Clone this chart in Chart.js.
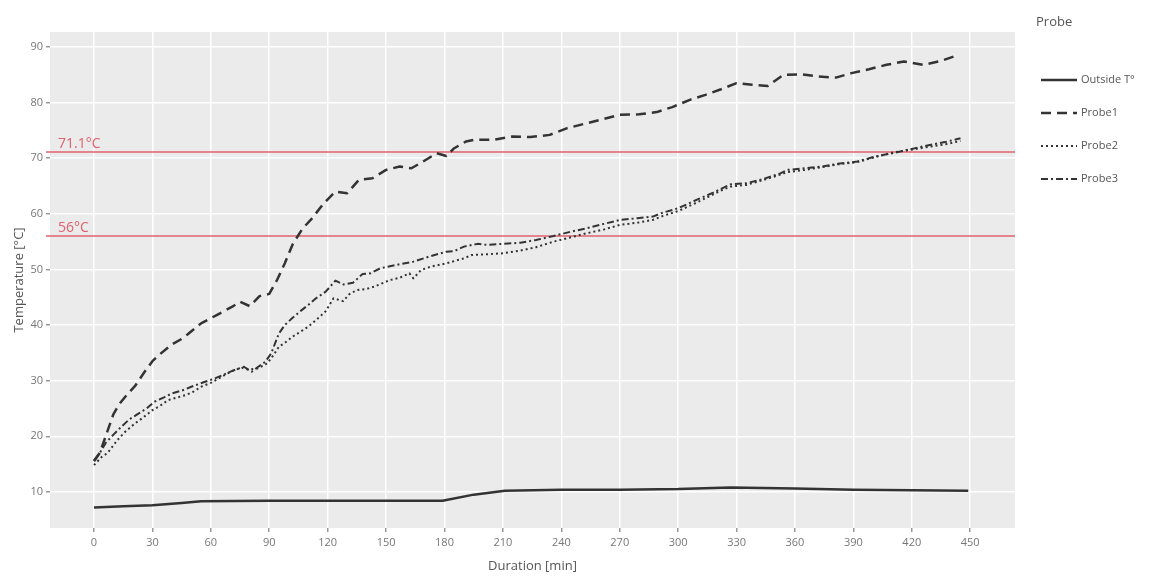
<!DOCTYPE html>
<html>
<head>
<meta charset="utf-8">
<title>Probe temperatures</title>
<script src="https://cdn.jsdelivr.net/npm/chart.js@4.4.1/dist/chart.umd.min.js"></script>
<style>
  html, body { margin: 0; padding: 0; background: #fff; }
  #wrap { width: 1157px; height: 576px; position: relative; }
</style>
</head>
<body>
<div id="wrap"><canvas id="tempChart"></canvas></div>
<script>
// ticks
const xTicks = [0, 30, 60, 90, 120, 150, 180, 210, 240, 270, 300, 330, 360, 390, 420, 450];
const yTicks = [10, 20, 30, 40, 50, 60, 70, 80, 90];

// reference temperatures
const thresholds = [71.1, 56];
const thresholdLabels = ['71.1°C', '56°C'];

const seriesNames = ['Outside T°', 'Probe1', 'Probe2', 'Probe3'];

// Outside T°
const outsideTime = [0, 15, 30, 45, 55, 90, 120, 150, 179, 195, 211, 240, 270, 300, 327, 360, 390, 420, 449];
const outsideTemp = [7.2, 7.4, 7.6, 8.0, 8.3, 8.4, 8.4, 8.4, 8.4, 9.5, 10.2, 10.4, 10.4, 10.5, 10.8, 10.6, 10.4, 10.3, 10.2];

// Probe1
const probe1Time = [0, 3, 7, 10, 13, 17, 21, 26, 30, 34, 40, 45, 48, 55, 63, 71, 75, 80, 85, 90,
  94, 98, 102, 107, 112, 118, 124, 130, 136, 143, 150, 157, 163, 169, 176, 181, 185, 191, 195, 205,
  215, 224, 234, 243, 252, 261, 270, 280, 289, 297, 306, 314, 322, 330, 338, 346, 354, 363, 372, 381,
  389, 398, 407, 416, 426, 435, 444];
const probe1Temp = [15.5, 17.0, 21.0, 24.0, 25.8, 27.5, 29.0, 31.6, 33.5, 34.8, 36.5, 37.5, 38.3, 40.3, 41.8, 43.3, 44.2, 43.4, 45.2, 45.6,
  48.1, 51.1, 54.5, 57.3, 59.2, 61.9, 64.0, 63.7, 66.1, 66.4, 67.9, 68.5, 68.2, 69.4, 70.9, 70.4, 71.8, 73.0, 73.3, 73.3,
  73.9, 73.8, 74.2, 75.4, 76.2, 77.0, 77.8, 77.9, 78.3, 79.2, 80.5, 81.4, 82.4, 83.5, 83.2, 83.0, 85.0, 85.1, 84.7, 84.5,
  85.3, 86.0, 86.8, 87.4, 86.8, 87.5, 88.6];

// Probe2
const probe2Time = [0, 4, 7, 12, 16, 21, 25, 30, 34, 38, 43, 47, 51, 55, 60, 64, 68, 72, 76, 79,
  84, 89, 92, 95, 98, 102, 106, 110, 115, 119, 123, 128, 131, 135, 140, 144, 148, 152, 157, 162,
  164, 168, 173, 181, 190, 194, 200, 210, 219, 227, 236, 245, 253, 262, 270, 279, 287, 292, 300, 305,
  310, 318, 322, 327, 335, 343, 352, 356, 365, 374, 382, 392, 401, 410, 419, 428, 437, 445];
const probe2Temp = [14.8, 16.3, 17.0, 19.3, 20.8, 22.3, 23.3, 24.7, 25.5, 26.5, 27.0, 27.4, 28.0, 28.9, 29.6, 30.4, 31.2, 31.9, 32.3, 32.0,
  32.2, 33.1, 34.5, 36.1, 36.8, 37.9, 38.8, 39.7, 41.2, 42.5, 44.8, 44.3, 45.5, 46.3, 46.5, 46.9, 47.5, 48.1, 48.5, 49.3,
  48.4, 49.9, 50.5, 51.1, 52.0, 52.6, 52.7, 52.9, 53.4, 54.0, 55.0, 55.8, 56.5, 57.2, 58.0, 58.4, 58.9, 59.6, 60.5, 61.3,
  62.1, 63.5, 64.2, 64.9, 65.2, 66.0, 67.0, 67.5, 67.9, 68.4, 68.9, 69.3, 70.2, 71.0, 71.5, 72.0, 72.5, 73.1];

// Probe3
const probe3Time = [0, 3, 6, 10, 14, 18, 23, 27, 31, 36, 40, 45, 50, 57, 62, 66, 72, 77, 81, 84,
  88, 91, 95, 98, 102, 106, 110, 114, 119, 124, 128, 133, 138, 142, 147, 155, 164, 172, 181, 185,
  190, 197, 202, 210, 219, 227, 236, 245, 253, 262, 270, 279, 287, 292, 300, 305, 310, 318, 322, 327,
  335, 343, 352, 356, 365, 374, 382, 392, 401, 410, 419, 428, 437, 445];
const probe3Temp = [15.7, 17.0, 18.8, 20.3, 21.7, 23.0, 24.1, 25.0, 26.2, 27.0, 27.7, 28.2, 28.9, 29.8, 30.4, 31.0, 31.9, 32.5, 31.6, 32.4,
  33.4, 34.9, 38.5, 40.0, 41.3, 42.5, 43.6, 44.8, 46.0, 48.0, 47.3, 47.6, 49.2, 49.3, 50.2, 50.8, 51.4, 52.3, 53.2, 53.3,
  54.1, 54.6, 54.4, 54.6, 54.8, 55.3, 56.0, 56.8, 57.4, 58.2, 58.9, 59.2, 59.5, 60.2, 61.0, 61.8, 62.6, 63.8, 64.5, 65.3,
  65.5, 66.2, 67.2, 67.9, 68.2, 68.5, 69.0, 69.4, 70.3, 70.9, 71.6, 72.3, 72.9, 73.6];

const toPoints = (xs, ys) => xs.map((x, i) => ({ x: x, y: ys[i] }));

const lineColor = '#333333';
const redColor = '#e0606c';
const fontFamily = '"Open Sans", "DejaVu Sans", sans-serif';

// grey panel behind the plot
const panelBackground = {
  id: 'panelBackground',
  beforeDraw(chart) {
    const { ctx, chartArea } = chart;
    ctx.save();
    ctx.fillStyle = '#ebebeb';
    ctx.fillRect(chartArea.left, chartArea.top, chartArea.right - chartArea.left, chartArea.bottom - chartArea.top);
    ctx.restore();
  }
};

// horizontal reference lines with their labels
const thresholdLines = {
  id: 'thresholdLines',
  beforeDatasetsDraw(chart) {
    const { ctx, chartArea } = chart;
    const yScale = chart.scales.y;
    ctx.save();
    thresholds.forEach((v, i) => {
      const y = yScale.getPixelForValue(v);
      ctx.strokeStyle = redColor;
      ctx.lineWidth = 1.5;
      ctx.beginPath();
      ctx.moveTo(chartArea.left - 4, y);
      ctx.lineTo(chartArea.right, y);
      ctx.stroke();
      ctx.fillStyle = redColor;
      ctx.font = '14px ' + fontFamily;
      ctx.textBaseline = 'bottom';
      ctx.fillText(thresholdLabels[i], chartArea.left + 8, y - 1);
    });
    ctx.restore();
  }
};

// legend on the right
const probeLegend = {
  id: 'probeLegend',
  afterDraw(chart) {
    const ctx = chart.ctx;
    ctx.save();
    ctx.textBaseline = 'middle';
    ctx.fillStyle = '#555';
    ctx.font = '13px ' + fontFamily;
    ctx.fillText('Probe', 1036, 22);
    ctx.font = '11px ' + fontFamily;
    chart.data.datasets.forEach((ds, i) => {
      const y = 80 + i * 33;
      ctx.strokeStyle = ds.borderColor;
      ctx.lineWidth = ds.borderWidth;
      ctx.setLineDash(ds.borderDash || []);
      ctx.beginPath();
      ctx.moveTo(1041, y);
      ctx.lineTo(1077, y);
      ctx.stroke();
      ctx.setLineDash([]);
      ctx.fillStyle = '#555';
      ctx.fillText(ds.label, 1081, y);
    });
    ctx.restore();
  }
};

const ctx = document.getElementById('tempChart').getContext('2d');
const tempChart = new Chart(ctx, {
  type: 'line',
  data: {
    datasets: [{
      label: seriesNames[0],
      data: toPoints(outsideTime, outsideTemp),
      borderColor: lineColor,
      borderWidth: 2.5,
      borderDash: []
    }, {
      label: seriesNames[1],
      data: toPoints(probe1Time, probe1Temp),
      borderColor: lineColor,
      borderWidth: 2.5,
      borderDash: [10, 6]
    }, {
      label: seriesNames[2],
      data: toPoints(probe2Time, probe2Temp),
      borderColor: lineColor,
      borderWidth: 2,
      borderDash: [2, 3]
    }, {
      label: seriesNames[3],
      data: toPoints(probe3Time, probe3Temp),
      borderColor: lineColor,
      borderWidth: 2,
      borderDash: [7, 3, 2, 3]
    }]
  },
  options: {
    responsive: true,
    maintainAspectRatio: false,
    animation: false,
    layout: {
      padding: { top: 32, right: 142, left: 0, bottom: 0 }
    },
    elements: {
      point: { radius: 0 },
      line: { tension: 0, fill: false, borderJoinStyle: 'round' }
    },
    scales: {
      x: {
        type: 'linear',
        min: -22.6,
        max: 473,
        afterBuildTicks: (scale) => { scale.ticks = xTicks.map(v => ({ value: v })); },
        afterFit: (scale) => { scale.height = 48; },
        border: { display: false },
        grid: { color: '#ffffff', lineWidth: 1.5, tickColor: '#999', tickLength: 4 },
        ticks: { color: '#777', font: { family: fontFamily, size: 11 }, padding: 4, maxRotation: 0 },
        title: {
          display: true,
          text: 'Duration [min]',
          color: '#555',
          font: { family: fontFamily, size: 13 },
          padding: { top: 0, bottom: 2 }
        }
      },
      y: {
        type: 'linear',
        min: 3.5,
        max: 92.7,
        afterBuildTicks: (scale) => { scale.ticks = yTicks.map(v => ({ value: v })); },
        afterFit: (scale) => { scale.width = 50; },
        border: { display: false },
        grid: { color: '#ffffff', lineWidth: 1.5, tickColor: '#999', tickLength: 4 },
        ticks: { color: '#777', font: { family: fontFamily, size: 11 }, padding: 3 },
        title: {
          display: true,
          text: 'Temperature [°C]',
          color: '#555',
          font: { family: fontFamily, size: 13 },
          padding: { top: 11, bottom: 0 }
        }
      }
    },
    plugins: {
      legend: { display: false },
      tooltip: { enabled: false }
    }
  },
  plugins: [panelBackground, thresholdLines, probeLegend]
});
</script>
</body>
</html>
